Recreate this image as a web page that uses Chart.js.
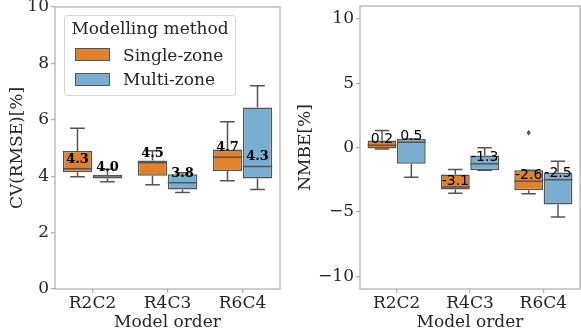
<!DOCTYPE html>
<html>
<head>
<meta charset="utf-8">
<script src="https://cdn.jsdelivr.net/npm/chart.js@4.4.1/dist/chart.umd.min.js"></script>
<style>
  body { margin: 0; background: #fff; }
  #wrap { position: relative; width: 581px; height: 336px; }
  canvas { position: absolute; top: 0; }
</style>
</head>
<body>
<div id="wrap">
  <canvas id="cv" width="290" height="336" style="left:0"></canvas>
  <canvas id="nmbe" width="291" height="336" style="left:290px"></canvas>
</div>
<script>
// categories + tick labels
const categories = ['R2C2', 'R4C3', 'R6C4'];
const cvTicks = [0, 2, 4, 6, 8, 10];
const nmbeTicks = [-10, -5, 0, 5, 10];

// box stats per category: [whisker low, q1, median, q3, whisker high]
const cvSingle = [[3.98, 4.14, 4.26, 4.89, 5.70], [3.70, 4.02, 4.48, 4.56, 4.90], [3.84, 4.18, 4.67, 4.95, 5.93]];
const cvMulti = [[3.80, 3.92, 3.96, 4.04, 4.25], [3.42, 3.53, 3.77, 4.07, 4.12], [3.53, 3.92, 4.34, 6.44, 7.21]];
const cvSingleLabels = ['4.3', '4.5', '4.7'];
const cvMultiLabels = ['4.0', '3.8', '4.3'];

const nmbeSingle = [[-0.12, -0.08, 0.18, 0.54, 1.32], [-3.55, -3.26, -3.08, -2.10, -1.71], [-3.60, -3.32, -2.62, -1.76, -1.76]];
const nmbeMulti = [[-2.31, -1.27, 0.41, 0.67, 0.67], [-1.76, -1.76, -1.27, -0.62, -0.02], [-5.41, -4.43, -2.51, -1.94, -1.06]];
const nmbeSingleFliers = [[], [], [1.14]];
const nmbeMultiFliers = [[], [], []];
const nmbeSingleLabels = ['0.2', '-3.1', '-2.6'];
const nmbeMultiLabels = ['0.5', '-1.3', '-2.5'];

const ORANGE = '#e1812c';
const BLUE = '#79aed0';
const EDGE = '#555555';
const SPINE = '#b0b0b0';
const SERIF = '"DejaVu Serif", serif';

// whiskers, medians, fliers, value labels
const boxExtras = {
  id: 'boxExtras',
  afterDatasetsDraw(chart, args, opts) {
    const ctx = chart.ctx, y = chart.scales.y;
    opts.series.forEach((s, di) => {
      chart.getDatasetMeta(di).data.forEach((bar, i) => {
        const [lo, q1, med, q3, hi] = s.stats[i];
        const x = bar.x, w = bar.width;
        ctx.save();
        ctx.strokeStyle = EDGE;
        ctx.lineWidth = 1.5;
        ctx.beginPath();
        ctx.moveTo(x, y.getPixelForValue(q3)); ctx.lineTo(x, y.getPixelForValue(hi));
        ctx.moveTo(x, y.getPixelForValue(q1)); ctx.lineTo(x, y.getPixelForValue(lo));
        ctx.moveTo(x - w / 4, y.getPixelForValue(hi)); ctx.lineTo(x + w / 4, y.getPixelForValue(hi));
        ctx.moveTo(x - w / 4, y.getPixelForValue(lo)); ctx.lineTo(x + w / 4, y.getPixelForValue(lo));
        ctx.moveTo(x - w / 2, y.getPixelForValue(med)); ctx.lineTo(x + w / 2, y.getPixelForValue(med));
        ctx.stroke();
        ctx.fillStyle = EDGE;
        (s.fliers ? s.fliers[i] : []).forEach(v => {
          const py = y.getPixelForValue(v);
          ctx.beginPath();
          ctx.moveTo(x, py - 3); ctx.lineTo(x + 2, py); ctx.lineTo(x, py + 3); ctx.lineTo(x - 2, py);
          ctx.closePath(); ctx.fill();
        });
        ctx.restore();
      });
    });
    // labels on top of everything
    opts.series.forEach((s, di) => {
      chart.getDatasetMeta(di).data.forEach((bar, i) => {
        ctx.save();
        ctx.font = opts.labelFont;
        ctx.fillStyle = '#000';
        ctx.textAlign = 'center';
        ctx.textBaseline = 'middle';
        ctx.fillText(s.labels[i], bar.x, y.getPixelForValue(s.stats[i][2]) - opts.labelLift);
        ctx.restore();
      });
    });
  },
  afterDraw(chart, args, opts) {
    const ctx = chart.ctx, a = chart.chartArea;
    ctx.save();
    ctx.strokeStyle = SPINE;
    ctx.lineWidth = 1.25;
    ctx.strokeRect(a.left, a.top, a.right - a.left, a.bottom - a.top);
    if (opts.legend) {
      ctx.fillStyle = 'rgba(255,255,255,0.8)';
      ctx.strokeStyle = '#d4d4d4';
      ctx.lineWidth = 1;
      ctx.beginPath();
      ctx.roundRect(64.5, 15.5, 171, 80, 3);
      ctx.fill(); ctx.stroke();
      ctx.fillStyle = '#262626';
      ctx.font = '17px ' + SERIF;
      ctx.textAlign = 'center';
      ctx.textBaseline = 'alphabetic';
      ctx.fillText('Modelling method', 150, 34);
      ctx.textAlign = 'left';
      [['Single-zone', ORANGE, 48.5, 60.5], ['Multi-zone', BLUE, 73.5, 85]].forEach(([t, c, py, by]) => {
        ctx.fillStyle = c;
        ctx.strokeStyle = EDGE;
        ctx.lineWidth = 1;
        ctx.fillRect(75.5, py, 34, 12);
        ctx.strokeRect(75.5, py, 34, 12);
        ctx.fillStyle = '#262626';
        ctx.fillText(t, 123, by);
      });
    }
    ctx.restore();
  }
};

let makeBoxChart = (canvas, {single, multi, singleFliers, multiFliers, singleLabels, multiLabels,
                             ticks, min, max, yTitle, yWidth, yTitlePad, padRight, padTop,
                             labelFont, labelLift, legend}) => new Chart(canvas, {
  type: 'bar',
  data: {
    labels: categories,
    datasets: [
      { label: 'Single-zone', data: single.map(s => [s[1], s[3]]), backgroundColor: ORANGE },
      { label: 'Multi-zone', data: multi.map(s => [s[1], s[3]]), backgroundColor: BLUE }
    ].map(d => Object.assign(d, {
      borderColor: EDGE, borderWidth: 1.5, borderSkipped: false,
      categoryPercentage: 0.8, barPercentage: 0.98
    }))
  },
  options: {
    responsive: false,
    animation: false,
    devicePixelRatio: 1,
    layout: { padding: { left: 0, right: padRight, top: padTop, bottom: 0 } },
    plugins: {
      legend: { display: false },
      tooltip: { enabled: false },
      boxExtras: {
        series: [
          { stats: single, fliers: singleFliers, labels: singleLabels },
          { stats: multi, fliers: multiFliers, labels: multiLabels }
        ],
        labelFont, labelLift, legend
      }
    },
    scales: {
      x: {
        grid: { display: true, drawOnChartArea: false, offset: false, tickLength: 4, tickColor: SPINE, lineWidth: 1.25 },
        border: { display: false },
        ticks: { font: { family: SERIF, size: 17 }, color: '#262626', padding: 0, maxRotation: 0 },
        title: { display: true, text: 'Model order', font: { family: SERIF, size: 17 }, color: '#262626', padding: { top: 0, bottom: 3 } },
        afterFit: s => { s.height = 47; s.paddingLeft = 0; s.paddingRight = 0; }
      },
      y: {
        min, max,
        afterBuildTicks: s => { s.ticks = ticks.map(v => ({ value: v })); },
        grid: { display: true, drawOnChartArea: false, tickLength: 4, tickColor: SPINE, lineWidth: 1.25 },
        border: { display: false },
        ticks: { font: { family: SERIF, size: 17 }, color: '#262626', padding: 2,
                 callback: v => String(v).replace('-', '\u2212') },
        title: { display: true, text: yTitle, font: { family: SERIF, size: 17 }, color: '#262626', padding: { top: yTitlePad, bottom: 0 } },
        afterFit: s => { s.width = yWidth; s.paddingTop = 0; s.paddingBottom = 0; }
      }
    }
  },
  plugins: [boxExtras]
});

makeBoxChart(document.getElementById('cv'), {
  single: cvSingle, multi: cvMulti, singleFliers: null, multiFliers: null,
  singleLabels: cvSingleLabels, multiLabels: cvMultiLabels,
  ticks: cvTicks, min: 0, max: 10, yTitle: 'CV(RMSE)[%]',
  yWidth: 55, yTitlePad: 7, padRight: 10, padTop: 7,
  labelFont: 'bold 13px ' + SERIF, labelLift: 9.5, legend: true
});

makeBoxChart(document.getElementById('nmbe'), {
  single: nmbeSingle, multi: nmbeMulti, singleFliers: nmbeSingleFliers, multiFliers: nmbeMultiFliers,
  singleLabels: nmbeSingleLabels, multiLabels: nmbeMultiLabels,
  ticks: nmbeTicks, min: -11, max: 11, yTitle: 'NMBE[%]',
  yWidth: 70, yTitlePad: 5, padRight: 1, padTop: 6,
  labelFont: '14px "DejaVu Sans", sans-serif', labelLift: 6, legend: false
});
</script>
</body>
</html>
